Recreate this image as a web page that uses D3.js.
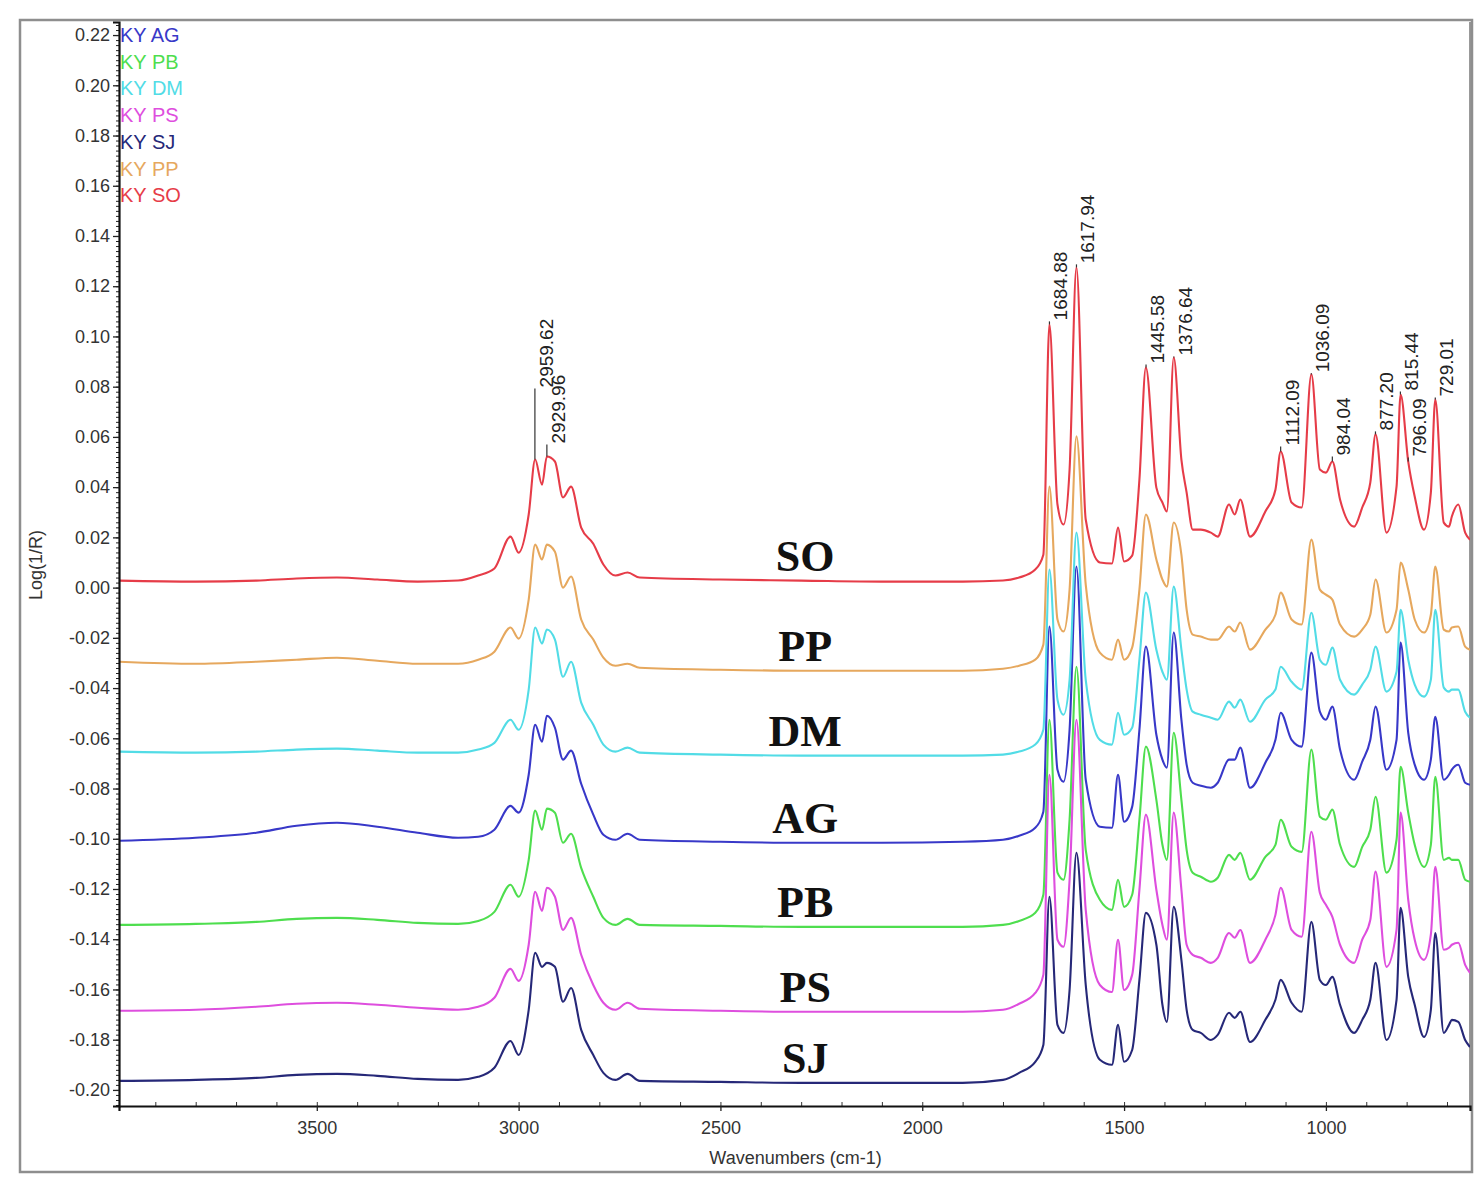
<!DOCTYPE html>
<html>
<head>
<meta charset="utf-8">
<script src="https://cdn.jsdelivr.net/npm/d3@7"></script>
<style>
  body { margin: 0; background: #fff; }
  svg text { font-family: "Liberation Sans", Arial, sans-serif; }
</style>
</head>
<body>
<svg id="spectra"></svg>
<script>
// ---- data ----
const wavenumbers = [3990, 3800, 3650, 3550, 3450, 3350, 3250, 3150, 3100, 3060,
  3020, 3000, 2975, 2959, 2942, 2930, 2910, 2890, 2870, 2845,
  2815, 2790, 2760, 2730, 2700, 2500, 2300, 2100, 1900, 1800,
  1760, 1720, 1700, 1685, 1665, 1650, 1635, 1618, 1595, 1560,
  1530, 1515, 1500, 1480, 1462, 1446, 1420, 1405, 1394, 1377,
  1358, 1345, 1330, 1310, 1285, 1268, 1240, 1226, 1212, 1188,
  1150, 1125, 1112, 1085, 1060, 1036, 1015, 1000, 984, 965,
  930, 910, 890, 877, 850, 825, 815, 796, 780, 757,
  740, 729, 708, 695, 688, 672, 655, 643];

const valuesAG = [-0.1008, -0.0996, -0.0976, -0.0948, -0.0936, -0.0952, -0.0976, -0.0996, -0.0992, -0.0964,
  -0.0869, -0.0896, -0.0745, -0.0546, -0.0614, -0.0510, -0.0558, -0.0685, -0.0649, -0.0781,
  -0.0904, -0.0984, -0.1004, -0.0980, -0.1004, -0.1012, -0.1016, -0.1016, -0.1012, -0.1004,
  -0.0988, -0.0956, -0.0892, -0.0155, -0.0725, -0.0773, -0.0566, 0.0084, -0.0765, -0.0952,
  -0.0956, -0.0745, -0.0932, -0.0873, -0.0566, -0.0235, -0.0586, -0.0685, -0.0717, -0.0179,
  -0.0526, -0.0705, -0.0777, -0.0789, -0.0797, -0.0777, -0.0685, -0.0685, -0.0637, -0.0797,
  -0.0697, -0.0606, -0.0498, -0.0606, -0.0633, -0.0259, -0.0494, -0.0526, -0.0474, -0.0645,
  -0.0765, -0.0693, -0.0606, -0.0474, -0.0725, -0.0606, -0.0219, -0.0578, -0.0705, -0.0765,
  -0.0685, -0.0514, -0.0765, -0.0745, -0.0725, -0.0705, -0.0777, -0.0785];

const valuesPB = [-0.1343, -0.1339, -0.1331, -0.1319, -0.1315, -0.1323, -0.1335, -0.1339, -0.1327, -0.1291,
  -0.1183, -0.1231, -0.1084, -0.0888, -0.0964, -0.0880, -0.0896, -0.1016, -0.0980, -0.1116,
  -0.1231, -0.1315, -0.1343, -0.1319, -0.1343, -0.1347, -0.1351, -0.1351, -0.1351, -0.1343,
  -0.1327, -0.1295, -0.1223, -0.0526, -0.1135, -0.1163, -0.0924, -0.0315, -0.1044, -0.1243,
  -0.1283, -0.1163, -0.1271, -0.1223, -0.0924, -0.0633, -0.0845, -0.1024, -0.1084, -0.0578,
  -0.0845, -0.1044, -0.1135, -0.1151, -0.1171, -0.1155, -0.1064, -0.1084, -0.1056, -0.1163,
  -0.1072, -0.1024, -0.0924, -0.1032, -0.1052, -0.0645, -0.0912, -0.0924, -0.0884, -0.1024,
  -0.1112, -0.1032, -0.0964, -0.0833, -0.1135, -0.1004, -0.0713, -0.0896, -0.1024, -0.1112,
  -0.1024, -0.0753, -0.1084, -0.1076, -0.1084, -0.1084, -0.1163, -0.1171];

const valuesDM = [-0.0653, -0.0657, -0.0653, -0.0645, -0.0641, -0.0649, -0.0657, -0.0657, -0.0645, -0.0618,
  -0.0526, -0.0566, -0.0406, -0.0159, -0.0223, -0.0167, -0.0207, -0.0355, -0.0295, -0.0458,
  -0.0546, -0.0625, -0.0653, -0.0637, -0.0657, -0.0665, -0.0669, -0.0669, -0.0669, -0.0665,
  -0.0653, -0.0625, -0.0566, 0.0072, -0.0446, -0.0506, -0.0367, 0.0219, -0.0367, -0.0606,
  -0.0625, -0.0498, -0.0586, -0.0558, -0.0287, -0.0020, -0.0247, -0.0335, -0.0367, 0.0004,
  -0.0247, -0.0406, -0.0494, -0.0506, -0.0518, -0.0526, -0.0454, -0.0478, -0.0446, -0.0534,
  -0.0446, -0.0406, -0.0315, -0.0375, -0.0406, -0.0100, -0.0287, -0.0307, -0.0239, -0.0367,
  -0.0426, -0.0386, -0.0327, -0.0235, -0.0414, -0.0335, -0.0088, -0.0287, -0.0386, -0.0434,
  -0.0367, -0.0088, -0.0398, -0.0414, -0.0406, -0.0406, -0.0494, -0.0518];

const valuesPS = [-0.1685, -0.1681, -0.1669, -0.1657, -0.1653, -0.1661, -0.1673, -0.1681, -0.1669, -0.1633,
  -0.1518, -0.1566, -0.1422, -0.1211, -0.1287, -0.1195, -0.1231, -0.1363, -0.1315, -0.1462,
  -0.1582, -0.1653, -0.1681, -0.1653, -0.1677, -0.1685, -0.1689, -0.1689, -0.1689, -0.1681,
  -0.1657, -0.1614, -0.1542, -0.0745, -0.1402, -0.1430, -0.1163, -0.0526, -0.1283, -0.1582,
  -0.1610, -0.1402, -0.1602, -0.1542, -0.1203, -0.0904, -0.1203, -0.1343, -0.1402, -0.0896,
  -0.1203, -0.1422, -0.1462, -0.1474, -0.1494, -0.1474, -0.1375, -0.1394, -0.1363, -0.1494,
  -0.1402, -0.1303, -0.1195, -0.1363, -0.1390, -0.0972, -0.1215, -0.1263, -0.1311, -0.1422,
  -0.1494, -0.1402, -0.1323, -0.1131, -0.1510, -0.1363, -0.0896, -0.1243, -0.1402, -0.1482,
  -0.1382, -0.1112, -0.1442, -0.1434, -0.1422, -0.1414, -0.1502, -0.1534];

const valuesSJ = [-0.1964, -0.1960, -0.1952, -0.1940, -0.1936, -0.1944, -0.1956, -0.1960, -0.1948, -0.1912,
  -0.1805, -0.1861, -0.1681, -0.1454, -0.1510, -0.1494, -0.1510, -0.1649, -0.1594, -0.1761,
  -0.1861, -0.1932, -0.1960, -0.1936, -0.1964, -0.1968, -0.1972, -0.1972, -0.1972, -0.1960,
  -0.1932, -0.1888, -0.1821, -0.1231, -0.1741, -0.1773, -0.1602, -0.1056, -0.1582, -0.1880,
  -0.1900, -0.1741, -0.1888, -0.1841, -0.1562, -0.1295, -0.1422, -0.1661, -0.1729, -0.1271,
  -0.1482, -0.1681, -0.1761, -0.1773, -0.1801, -0.1781, -0.1693, -0.1713, -0.1689, -0.1809,
  -0.1721, -0.1641, -0.1562, -0.1653, -0.1689, -0.1331, -0.1562, -0.1582, -0.1550, -0.1661,
  -0.1773, -0.1721, -0.1641, -0.1494, -0.1801, -0.1641, -0.1275, -0.1550, -0.1661, -0.1789,
  -0.1681, -0.1375, -0.1773, -0.1741, -0.1721, -0.1729, -0.1801, -0.1829];

const valuesPP = [-0.0295, -0.0303, -0.0295, -0.0287, -0.0279, -0.0291, -0.0303, -0.0303, -0.0287, -0.0255,
  -0.0159, -0.0203, -0.0048, 0.0171, 0.0112, 0.0171, 0.0143, 0.0000, 0.0044, -0.0127,
  -0.0207, -0.0279, -0.0311, -0.0303, -0.0319, -0.0327, -0.0331, -0.0331, -0.0331, -0.0323,
  -0.0311, -0.0287, -0.0227, 0.0402, -0.0127, -0.0175, -0.0008, 0.0602, 0.0012, -0.0259,
  -0.0287, -0.0207, -0.0287, -0.0239, -0.0008, 0.0291, 0.0112, 0.0032, 0.0004, 0.0259,
  0.0131, -0.0088, -0.0187, -0.0195, -0.0207, -0.0207, -0.0155, -0.0175, -0.0139, -0.0247,
  -0.0167, -0.0108, -0.0020, -0.0127, -0.0147, 0.0191, -0.0008, -0.0028, -0.0048, -0.0147,
  -0.0195, -0.0167, -0.0108, 0.0032, -0.0179, -0.0088, 0.0100, -0.0008, -0.0127, -0.0179,
  -0.0108, 0.0084, -0.0167, -0.0175, -0.0159, -0.0155, -0.0235, -0.0247];

const valuesSO = [0.0028, 0.0024, 0.0028, 0.0036, 0.0040, 0.0032, 0.0024, 0.0028, 0.0048, 0.0076,
  0.0203, 0.0139, 0.0291, 0.0510, 0.0410, 0.0522, 0.0502, 0.0359, 0.0402, 0.0239,
  0.0175, 0.0092, 0.0048, 0.0060, 0.0040, 0.0032, 0.0028, 0.0024, 0.0024, 0.0028,
  0.0040, 0.0072, 0.0131, 0.1048, 0.0331, 0.0251, 0.0470, 0.1275, 0.0271, 0.0100,
  0.0096, 0.0239, 0.0104, 0.0127, 0.0430, 0.0876, 0.0398, 0.0339, 0.0303, 0.0916,
  0.0510, 0.0378, 0.0231, 0.0231, 0.0219, 0.0203, 0.0331, 0.0291, 0.0351, 0.0203,
  0.0303, 0.0390, 0.0542, 0.0339, 0.0319, 0.0849, 0.0470, 0.0458, 0.0502, 0.0351,
  0.0243, 0.0319, 0.0418, 0.0610, 0.0219, 0.0402, 0.0769, 0.0502, 0.0363, 0.0231,
  0.0378, 0.0749, 0.0259, 0.0243, 0.0283, 0.0331, 0.0219, 0.0191];

// drawing order = legend order (last one on top)
const seriesNames = ["AG", "PB", "DM", "PS", "SJ", "PP", "SO"];
const seriesValues = [valuesAG, valuesPB, valuesDM, valuesPS, valuesSJ, valuesPP, valuesSO];
const seriesColors = ["#3838c8", "#4ede4e", "#52dce6", "#de4ede", "#262878", "#e6a85e", "#e63c48"];
const legendLabels = ["KY AG", "KY PB", "KY DM", "KY PS", "KY SJ", "KY PP", "KY SO"];

// peak annotations on the SO trace
const peakLabels = ["2959.62", "2929.96", "1684.88", "1617.94", "1445.58", "1376.64",
  "1112.09", "1036.09", "984.04", "877.20", "815.44", "796.09", "729.01"];
const peakPositions = [2959.62, 2929.96, 1684.88, 1617.94, 1445.58, 1376.64,
  1112.09, 1036.09, 984.04, 877.20, 815.44, 796.09, 729.01];
const peakLevels = [0.0793, 0.0570, 0.1060, 0.1287, 0.0888, 0.0920,
  0.0562, 0.0853, 0.0522, 0.0622, 0.0781, 0.0518, 0.0757];

const yTickValues = [-0.20, -0.18, -0.16, -0.14, -0.12, -0.10, -0.08, -0.06, -0.04, -0.02,
  0.00, 0.02, 0.04, 0.06, 0.08, 0.10, 0.12, 0.14, 0.16, 0.18, 0.20, 0.22];
const xTickValues = [3500, 3000, 2500, 2000, 1500, 1000];

// ---- layout ----
const width = 1476, height = 1188;
const plotLeft = 119, plotRight = 1470, plotTop = 22, plotBottom = 1106;

const svg = d3.select("#spectra")
  .attr("width", width)
  .attr("height", height)
  .attr("viewBox", [0, 0, width, height]);

svg.append("rect")
  .attr("width", width).attr("height", height)
  .attr("fill", "#fff");

// outer grey frame
svg.append("rect")
  .attr("x", 20).attr("y", 20)
  .attr("width", 1452).attr("height", 1152)
  .attr("fill", "none")
  .attr("stroke", "#8e8e8e")
  .attr("stroke-width", 2.5);

const x = d3.scaleLinear().domain([3990, 643]).range([plotLeft, plotRight]);
const y = d3.scaleLinear().domain([-0.2064, 0.2252]).range([plotBottom, plotTop]);

svg.append("clipPath").attr("id", "plot-clip")
  .append("rect")
  .attr("x", plotLeft).attr("y", plotTop)
  .attr("width", plotRight - plotLeft).attr("height", plotBottom - plotTop);

// right border of the plot
svg.append("line")
  .attr("x1", plotRight).attr("x2", plotRight)
  .attr("y1", plotTop).attr("y2", plotBottom)
  .attr("stroke", "#777").attr("stroke-width", 1.5);

// ---- spectra ----
const line = d3.line()
  .x((d, i) => x(wavenumbers[i]))
  .y(d => y(d))
  .curve(d3.curveMonotoneX);

svg.append("g")
  .attr("clip-path", "url(#plot-clip)")
  .selectAll("path")
  .data(seriesValues)
  .join("path")
  .attr("d", line)
  .attr("fill", "none")
  .attr("stroke", (d, i) => seriesColors[i])
  .attr("stroke-width", 2.1)
  .attr("stroke-linejoin", "round");

// ---- sample names above each trace ----
const nameAt = 2290;
const nameIdx = d3.minIndex(wavenumbers, w => Math.abs(w - 2300));
svg.append("g")
  .selectAll("text")
  .data(seriesNames)
  .join("text")
  .attr("x", x(nameAt))
  .attr("y", (d, i) => y(seriesValues[i][nameIdx]) - 10)
  .attr("text-anchor", "middle")
  .style("font-family", "'Liberation Serif', 'Times New Roman', serif")
  .style("font-weight", "bold")
  .style("font-size", "44px")
  .attr("fill", "#111")
  .text(d => d);

// ---- peak annotations ----
const peaks = peakLabels.map((label, i) => {
  const k = d3.minIndex(wavenumbers, w => Math.abs(w - peakPositions[i]));
  return { label, pos: peakPositions[i], level: peakLevels[i], top: valuesSO[k] };
});

const peakGroup = svg.append("g");
peakGroup.selectAll("line")
  .data(peaks)
  .join("line")
  .attr("x1", d => x(d.pos)).attr("x2", d => x(d.pos))
  .attr("y1", d => y(d.top)).attr("y2", d => y(d.level))
  .attr("stroke", "#333")
  .attr("stroke-width", 1.2);

peakGroup.selectAll("text")
  .data(peaks)
  .join("text")
  .attr("transform", d => `translate(${x(d.pos) + 18}, ${y(d.level) - 1}) rotate(-90)`)
  .attr("text-anchor", "start")
  .style("font-size", "19px")
  .attr("fill", "#222")
  .text(d => d.label);

// ---- axes ----
const yMinor = d3.range(-103, 113).map(i => i * 0.002).filter(v => v >= -0.2064 && v <= 0.2252);
svg.append("g")
  .attr("transform", `translate(${plotLeft},0)`)
  .call(d3.axisLeft(y).tickValues(yMinor).tickSize(3).tickFormat(""))
  .call(g => g.select(".domain").remove())
  .call(g => g.selectAll("line").attr("stroke", "#222"));

const yAxis = svg.append("g")
  .attr("transform", `translate(${plotLeft},0)`)
  .call(d3.axisLeft(y)
    .tickValues(yTickValues)
    .tickSize(6)
    .tickPadding(3)
    .tickFormat(d => d.toFixed(2)));
yAxis.select(".domain").attr("stroke", "#111").attr("stroke-width", 2.2);
yAxis.selectAll(".tick line").attr("stroke", "#222").attr("stroke-width", 1.3);
yAxis.selectAll(".tick text").style("font-size", "18px").attr("fill", "#333");

const xMinor = d3.range(7, 40).map(i => i * 100);
svg.append("g")
  .attr("transform", `translate(0,${plotBottom})`)
  .call(d3.axisTop(x).tickValues(xMinor).tickSize(4).tickFormat(""))
  .call(g => g.select(".domain").remove())
  .call(g => g.selectAll("line").attr("stroke", "#333"));

const xAxis = svg.append("g")
  .attr("transform", `translate(0,${plotBottom})`)
  .call(d3.axisBottom(x)
    .tickValues(xTickValues)
    .tickSize(5)
    .tickPadding(10)
    .tickFormat(d3.format("d")));
xAxis.select(".domain").attr("stroke", "#111").attr("stroke-width", 2.2);
xAxis.selectAll(".tick line").attr("stroke", "#222").attr("stroke-width", 1.3);
xAxis.selectAll(".tick text").style("font-size", "18px").attr("fill", "#333");

// axis titles
svg.append("text")
  .attr("x", (plotLeft + plotRight) / 2 + 1)
  .attr("y", 1164)
  .attr("text-anchor", "middle")
  .style("font-size", "18px")
  .attr("fill", "#333")
  .text("Wavenumbers (cm-1)");

svg.append("text")
  .attr("transform", `translate(42, 565) rotate(-90)`)
  .attr("text-anchor", "middle")
  .style("font-size", "18px")
  .attr("fill", "#333")
  .text("Log(1/R)");

// ---- legend (top left, inside plot) ----
svg.append("g")
  .selectAll("text")
  .data(legendLabels)
  .join("text")
  .attr("x", plotLeft + 1)
  .attr("y", (d, i) => 42 + i * 26.7)
  .style("font-size", "20px")
  .attr("fill", (d, i) => seriesColors[i])
  .text(d => d);
</script>
</body>
</html>
